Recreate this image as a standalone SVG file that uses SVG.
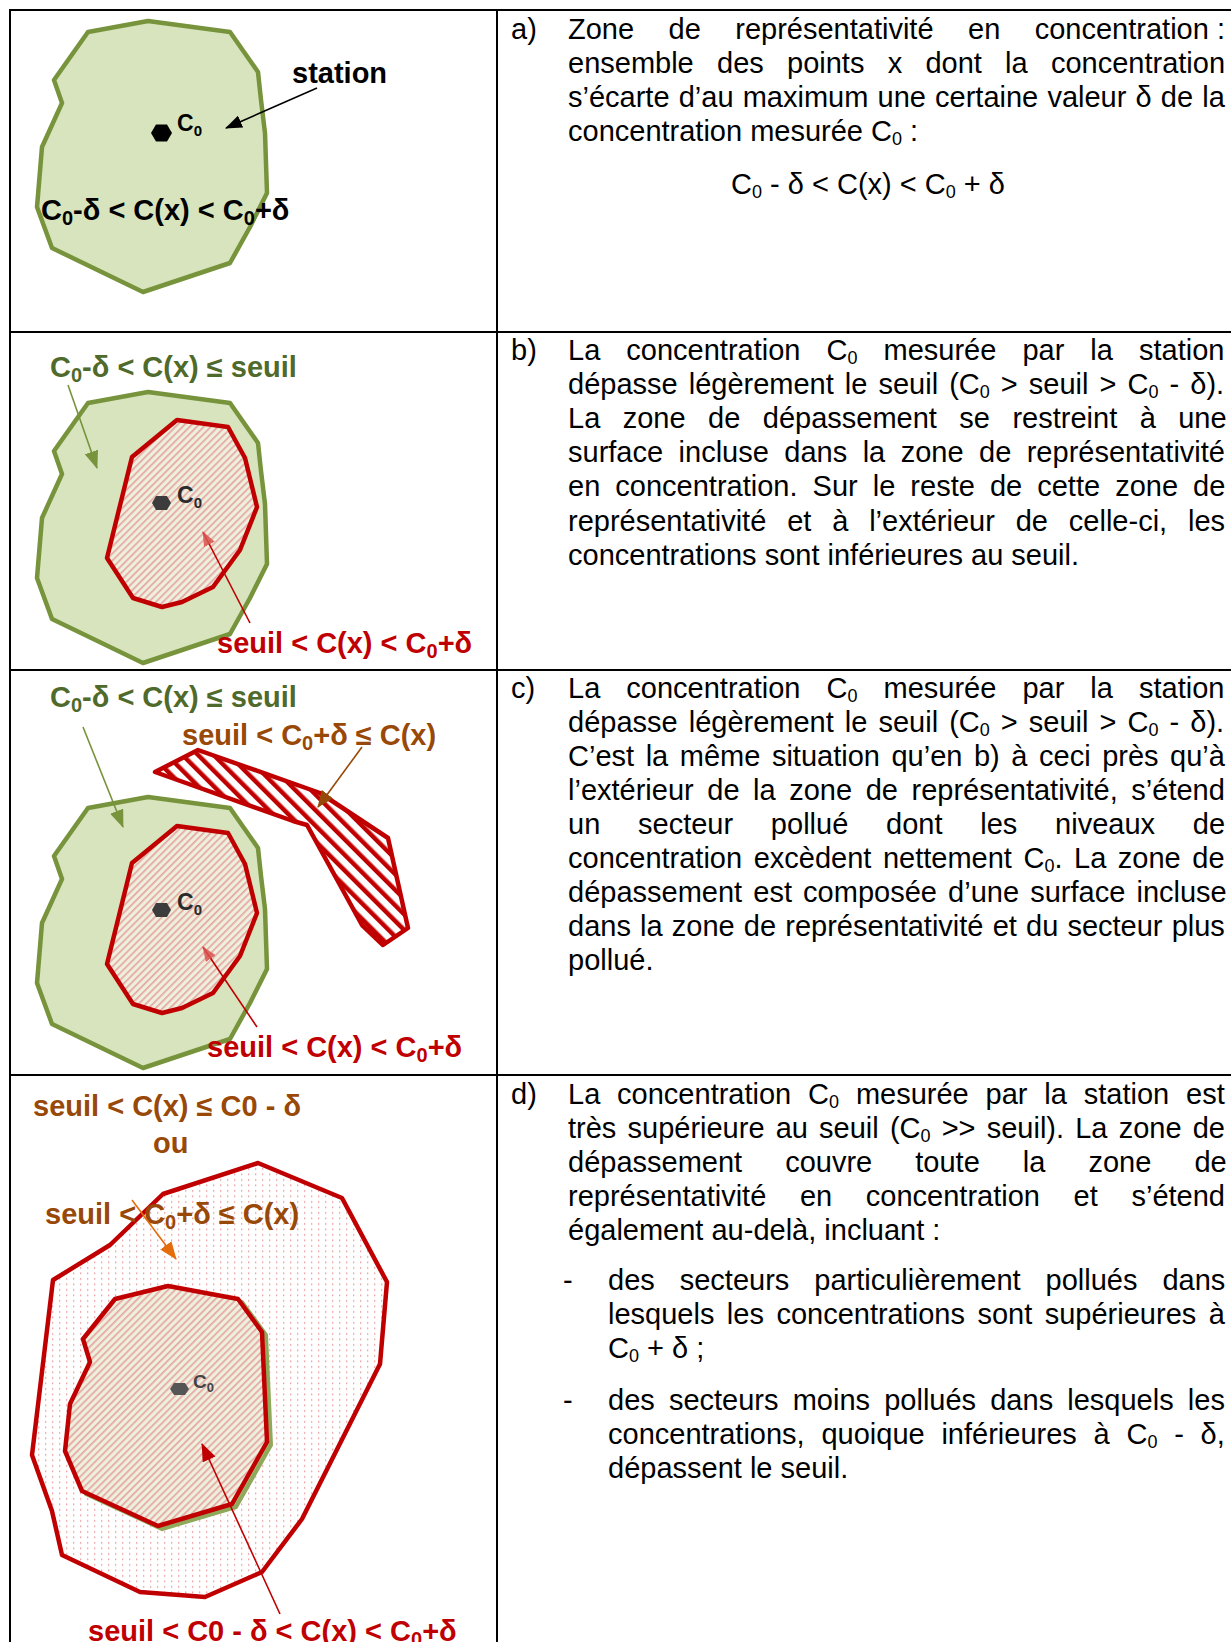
<svg xmlns="http://www.w3.org/2000/svg" width="1231" height="1642" viewBox="0 0 1231 1642">
<defs>
<style>
.t{font-family:"Liberation Sans",Arial,sans-serif;font-size:29px;fill:#000}
.s{font-size:18px}
.lb{font-family:"Liberation Sans",Arial,sans-serif;font-size:29px;font-weight:bold}
.sb{font-size:20px}
.green{fill:#4F6A2A}.red{fill:#C00000}.brown{fill:#984807}.blk{fill:#000}
.c0{font-family:"Liberation Sans",Arial,sans-serif;font-weight:bold}
.grid{stroke:#000;stroke-width:2;fill:none}
.gshape{fill:#D7E4BD;stroke:#77933C;stroke-width:4.5;stroke-linejoin:round}
.rshape{fill:url(#hatch);stroke:#C00000;stroke-width:4.5;stroke-linejoin:round}
.conn{fill:none;stroke-width:1.6}
</style>
<pattern id="hatch" patternUnits="userSpaceOnUse" width="5" height="5" patternTransform="rotate(45)">
<rect width="5" height="5" fill="#EDF0DB"/>
<rect width="1.7" height="5" fill="#E7A6A6"/>
</pattern>
<pattern id="band" patternUnits="userSpaceOnUse" width="11" height="11" patternTransform="rotate(-45)">
<rect width="11" height="11" fill="#fff"/>
<rect width="4.5" height="11" fill="#C00000"/>
</pattern>
<pattern id="dots" patternUnits="userSpaceOnUse" width="7" height="5.5">
<rect width="7" height="5.5" fill="#fff"/>
<rect x="3" y="2" width="1.3" height="1.8" fill="#EDA5A5"/>
</pattern>
<marker id="ahK" markerUnits="userSpaceOnUse" markerWidth="17" markerHeight="13" refX="16" refY="6.5" orient="auto"><path d="M0,0 L17,6.5 L0,13 Z" fill="#000"/></marker>
<marker id="ahG" markerUnits="userSpaceOnUse" markerWidth="18" markerHeight="14" refX="17" refY="7" orient="auto"><path d="M0,0 L18,7 L0,14 Z" fill="#77933C"/></marker>
<marker id="ahR" markerUnits="userSpaceOnUse" markerWidth="15" markerHeight="12" refX="14" refY="6" orient="auto"><path d="M0,0 L15,6 L0,12 Z" fill="#D9534F" fill-opacity="0.85"/></marker>
<marker id="ahR2" markerUnits="userSpaceOnUse" markerWidth="18" markerHeight="14" refX="17" refY="7" orient="auto"><path d="M0,0 L18,7 L0,14 Z" fill="#C00000"/></marker>
<marker id="ahB" markerUnits="userSpaceOnUse" markerWidth="17" markerHeight="14" refX="16" refY="7" orient="auto"><path d="M0,0 L17,7 L0,14 Z" fill="#984807"/></marker>
<marker id="ahO" markerUnits="userSpaceOnUse" markerWidth="18" markerHeight="14" refX="17" refY="7" orient="auto"><path d="M0,0 L18,7 L0,14 Z" fill="#E46C0A"/></marker>
<path id="gpoly" d="M88,32 L148,21 L230,32 L258,72 L261,100 L265,133 L267,193 L250,227 L230,263 L143,292 L52,248 L37,207 L42,147 L62,103 L54,80 Z"/>
<path id="rpoly" d="M177,420 L228,427 L245,458 L257,507 L240,550 L213,587 L182,602 L162,607 L133,598 L107,558 L132,457 Z"/>
</defs>
<rect width="1231" height="1642" fill="#fff"/>

<g id="table">
<line class="grid" x1="10" y1="10" x2="1231" y2="10"/>
<line class="grid" x1="10" y1="9" x2="10" y2="1642"/>
<line class="grid" x1="497" y1="10" x2="497" y2="1642"/>
<line class="grid" x1="10" y1="332" x2="1231" y2="332"/>
<line class="grid" x1="10" y1="670" x2="1231" y2="670"/>
<line class="grid" x1="10" y1="1075" x2="1231" y2="1075"/>
</g>

<g id="panel-a">
<use href="#gpoly" class="gshape"/>
<polygon points="151,133 156,124.5 167,124.5 172,133 167,141.5 156,141.5" fill="#000"/>
<text class="c0" x="177" y="131" font-size="23">C<tspan font-size="15" dy="5">0</tspan></text>
<text class="lb blk" x="292" y="83">station</text>
<text class="lb blk" x="41" y="220">C<tspan class="sb" dy="5">0</tspan><tspan dy="-5">-δ &lt; C(x) &lt; C</tspan><tspan class="sb" dy="5">0</tspan><tspan dy="-5">+δ</tspan></text>
</g>

<g id="panel-b">
<use href="#gpoly" class="gshape" transform="translate(0,371)"/>
<use href="#rpoly" class="rshape"/>
<polygon points="152,503 156,496 167,496 171,503 167,510 156,510" fill="#3C3C3C"/>
<text class="c0" x="177" y="503" font-size="23" fill="#2A2A2A">C<tspan font-size="15" dy="5">0</tspan></text>
<text class="lb green" x="50" y="377">C<tspan class="sb" dy="5">0</tspan><tspan dy="-5">-δ &lt; C(x) ≤ seuil</tspan></text>
<text class="lb red" x="217" y="653">seuil &lt; C(x) &lt; C<tspan class="sb" dy="5">0</tspan><tspan dy="-5">+δ</tspan></text>
</g>

<g id="panel-c">
<use href="#gpoly" class="gshape" transform="translate(0,776)"/>
<use href="#rpoly" class="rshape" transform="translate(0,406)"/>
<polygon points="155,772 198,750 320,793 388,838 408,928 383,945 362,925 307,825 293,821" fill="url(#band)" stroke="#C00000" stroke-width="4.5" stroke-linejoin="round"/>
<polygon points="152,910 156,903 167,903 171,910 167,917 156,917" fill="#3C3C3C"/>
<text class="c0" x="177" y="910" font-size="23" fill="#2A2A2A">C<tspan font-size="15" dy="5">0</tspan></text>
<text class="lb green" x="50" y="707">C<tspan class="sb" dy="5">0</tspan><tspan dy="-5">-δ &lt; C(x) ≤ seuil</tspan></text>
<text class="lb brown" x="182" y="745">seuil &lt; C<tspan class="sb" dy="5">0</tspan><tspan dy="-5">+δ ≤ C(x)</tspan></text>
<text class="lb red" x="207" y="1057">seuil &lt; C(x) &lt; C<tspan class="sb" dy="5">0</tspan><tspan dy="-5">+δ</tspan></text>
</g>

<g id="panel-d">
<polygon points="258,1163 342,1198 387,1282 380,1364 302,1519 262,1572 205,1597 140,1592 62,1555 52,1511 32,1455 53,1280 110,1245 163,1194" fill="url(#dots)" stroke="#C00000" stroke-width="4.5" stroke-linejoin="round"/>
<polygon points="115,1299 168,1286 238,1299 262,1332 267,1442 232,1504 158,1526 82,1491 65,1451 70,1404 90,1362 83,1339" transform="translate(4,3)" fill="#A9BC7A" stroke="#8FA85A" stroke-width="4"/>
<polygon points="115,1299 168,1286 238,1299 262,1332 267,1442 232,1504 158,1526 82,1491 65,1451 70,1404 90,1362 83,1339" fill="url(#hatch)" stroke="#C00000" stroke-width="4.5" stroke-linejoin="round"/>
<polygon points="170,1389 174,1383 185,1383 189,1389 185,1395 174,1395" fill="#555"/>
<text class="c0" x="193" y="1388" font-size="19" fill="#444">C<tspan font-size="13" dy="4">0</tspan></text>
<text class="lb brown" x="33" y="1116">seuil &lt; C(x) ≤ C0 - δ</text>
<text class="lb brown" x="153" y="1153">ou</text>
<text class="lb brown" x="45" y="1224">seuil &lt; C<tspan class="sb" dy="5">0</tspan><tspan dy="-5">+δ ≤ C(x)</tspan></text>
<text class="lb red" x="88" y="1641">seuil &lt; C0 - δ &lt; C(x) &lt; C<tspan class="sb" dy="5">0</tspan><tspan dy="-5">+δ</tspan></text>
</g>

<g id="connectors">
<line class="conn" x1="317" y1="88" x2="226" y2="128" stroke="#000" stroke-width="1.8" marker-end="url(#ahK)"/>
<line class="conn" x1="68" y1="385" x2="97" y2="468" stroke="#77933C" marker-end="url(#ahG)"/>
<line class="conn" x1="250" y1="623" x2="203" y2="532" stroke="#C00000" marker-end="url(#ahR)"/>
<line class="conn" x1="83" y1="727" x2="123" y2="827" stroke="#77933C" marker-end="url(#ahG)"/>
<line class="conn" x1="362" y1="747" x2="318" y2="807" stroke="#984807" marker-end="url(#ahB)"/>
<line class="conn" x1="257" y1="1027" x2="203" y2="947" stroke="#C00000" marker-end="url(#ahR)"/>
<line class="conn" x1="132" y1="1200" x2="176" y2="1259" stroke="#E46C0A" marker-end="url(#ahO)"/>
<line class="conn" x1="280" y1="1614" x2="202" y2="1444" stroke="#C00000" marker-end="url(#ahR2)"/>
</g>

<g id="text-a">
<text class="t" x="511" y="39">a)</text>
<text class="t" x="568" y="39" word-spacing="26.4">Zone de représentativité en concentration<tspan word-spacing="0"> :</tspan></text>
<text class="t" x="568" y="73" word-spacing="15.2">ensemble des points x dont la concentration</text>
<text class="t" x="568" y="107" word-spacing="1.1">s’écarte d’au maximum une certaine valeur δ de la</text>
<text class="t" x="568" y="141">concentration mesurée C<tspan class="s" dy="4">0</tspan><tspan dy="-4"> :</tspan></text>
<text class="t" x="731" y="194">C<tspan class="s" dy="4">0</tspan><tspan dy="-4"> - δ &lt; C(x) &lt; C</tspan><tspan class="s" dy="4">0</tspan><tspan dy="-4"> + δ</tspan></text>
</g>

<g id="text-b">
<text class="t" x="511" y="359.5">b)</text>
<text class="t" x="568" y="359.5" word-spacing="18">La concentration C<tspan class="s" dy="4">0</tspan><tspan dy="-4"> mesurée par la station</tspan></text>
<text class="t" x="568" y="393.7" word-spacing="3">dépasse légèrement le seuil (C<tspan class="s" dy="4">0</tspan><tspan dy="-4"> &gt; seuil &gt; C</tspan><tspan class="s" dy="4">0</tspan><tspan dy="-4"> - δ).</tspan></text>
<text class="t" x="568" y="427.9" word-spacing="14.4">La zone de dépassement se restreint à une</text>
<text class="t" x="568" y="462.1" word-spacing="7.4">surface incluse dans la zone de représentativité</text>
<text class="t" x="568" y="496.3" word-spacing="7">en concentration. Sur le reste de cette zone de</text>
<text class="t" x="568" y="530.5" word-spacing="12.8">représentativité et à l’extérieur de celle-ci, les</text>
<text class="t" x="568" y="564.7">concentrations sont inférieures au seuil.</text>
</g>

<g id="text-c">
<text class="t" x="511" y="698">c)</text>
<text class="t" x="568" y="698" word-spacing="18">La concentration C<tspan class="s" dy="4">0</tspan><tspan dy="-4"> mesurée par la station</tspan></text>
<text class="t" x="568" y="732" word-spacing="3">dépasse légèrement le seuil (C<tspan class="s" dy="4">0</tspan><tspan dy="-4"> &gt; seuil &gt; C</tspan><tspan class="s" dy="4">0</tspan><tspan dy="-4"> - δ).</tspan></text>
<text class="t" x="568" y="766" word-spacing="3.5">C’est la même situation qu’en b) à ceci près qu’à</text>
<text class="t" x="568" y="800" word-spacing="5.5">l’extérieur de la zone de représentativité, s’étend</text>
<text class="t" x="568" y="834" word-spacing="29.7">un secteur pollué dont les niveaux de</text>
<text class="t" x="568" y="868" word-spacing="3.5">concentration excèdent nettement C<tspan class="s" dy="4">0</tspan><tspan dy="-4">. La zone de</tspan></text>
<text class="t" x="568" y="902" word-spacing="3.1">dépassement est composée d’une surface incluse</text>
<text class="t" x="568" y="936" word-spacing="1.1">dans la zone de représentativité et du secteur plus</text>
<text class="t" x="568" y="970">pollué.</text>
</g>

<g id="text-d">
<text class="t" x="511" y="1104">d)</text>
<text class="t" x="568" y="1104" word-spacing="8.8">La concentration C<tspan class="s" dy="4">0</tspan><tspan dy="-4"> mesurée par la station est</tspan></text>
<text class="t" x="568" y="1138" word-spacing="3.1">très supérieure au seuil (C<tspan class="s" dy="4">0</tspan><tspan dy="-4"> &gt;&gt; seuil). La zone de</tspan></text>
<text class="t" x="568" y="1172" word-spacing="35">dépassement couvre toute la zone de</text>
<text class="t" x="568" y="1206" word-spacing="25.6">représentativité en concentration et s’étend</text>
<text class="t" x="568" y="1240">également au-delà, incluant :</text>
<text class="t" x="563" y="1290">-</text>
<text class="t" x="608" y="1290" word-spacing="16.9">des secteurs particulièrement pollués dans</text>
<text class="t" x="608" y="1324" word-spacing="4.4">lesquels les concentrations sont supérieures à</text>
<text class="t" x="608" y="1358">C<tspan class="s" dy="4">0</tspan><tspan dy="-4"> + δ ;</tspan></text>
<text class="t" x="563" y="1410">-</text>
<text class="t" x="608" y="1410" word-spacing="6.1">des secteurs moins pollués dans lesquels les</text>
<text class="t" x="608" y="1444" word-spacing="8.7">concentrations, quoique inférieures à C<tspan class="s" dy="4">0</tspan><tspan dy="-4"> - δ,</tspan></text>
<text class="t" x="608" y="1478">dépassent le seuil.</text>
</g>
</svg>
